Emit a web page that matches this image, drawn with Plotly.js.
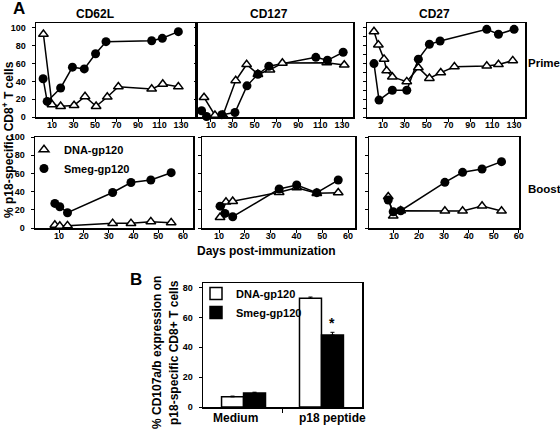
<!DOCTYPE html>
<html><head><meta charset="utf-8">
<script src="https://cdn.plot.ly/plotly-3.0.1.min.js"></script>
<style>html,body{margin:0;padding:0;background:#fff}#chart{width:560px;height:434px}</style>
</head><body><div id="chart"></div>
<script>
// ---------- Data (A: prime, days 0-130) ----------
const cd62lPrimeDNA_x = [2, 10, 18, 30.5, 40.7, 51, 61.4, 71.7, 102.7, 113, 127.5];
const cd62lPrimeDNA_y = [93, 14, 12, 13, 23, 12, 22.5, 34, 31.5, 37, 34];
const cd62lPrimeSmeg_x = [1.7, 5.5, 18, 29, 40, 50.5, 60.2, 102.7, 112.6, 127.5];
const cd62lPrimeSmeg_y = [43, 17.5, 32.6, 56, 54, 71, 84.6, 85.7, 88.4, 95.9];

const cd127PrimeDNA_x = [3.7, 13.7, 21, 32.7, 42.7, 53, 64, 75.4, 116, 132];
const cd127PrimeDNA_y = [22, 2, 2, 41, 59, 48, 53, 60.6, 61, 58.5];
const cd127PrimeSmeg_x = [1.5, 6, 20, 32, 43, 53, 63, 106, 116.6, 131];
const cd127PrimeSmeg_y = [7, 0.5, 2.6, 5, 35, 48, 57, 67, 63.7, 72.7];

const cd27PrimeDNA_x = [1.8, 5.8, 11, 13.4, 18.6, 31.8, 42.4, 52.5, 62.9, 75.4, 105, 115.7, 128.8];
const cd27PrimeDNA_y = [96, 81, 65, 52, 45, 39.7, 55.4, 43.5, 49.8, 56.5, 57.3, 59, 63.3];
const cd27PrimeSmeg_x = [1.8, 6.4, 18.6, 31.8, 42.4, 52.5, 62.3, 105, 115.7, 130];
const cd27PrimeSmeg_y = [60, 19, 30, 30, 65, 81.7, 85.4, 98.5, 93, 98.5];

// ---------- Data (A: boost, days 0-60) ----------
const cd62lBoostDNA_x = [8.3, 10.3, 13.4, 31.6, 39, 47, 55.2];
const cd62lBoostDNA_y = [3.3, 2.2, 2.6, 5.1, 5.1, 7, 5.9];
const cd62lBoostSmeg_x = [8.3, 10.3, 13.4, 31.6, 39, 47, 55.2];
const cd62lBoostSmeg_y = [27, 23.4, 16.8, 39, 50, 52.7, 60.8];

const cd127BoostDNA_x = [10.4, 12.7, 15.3, 33.3, 40.1, 47.9, 56.2];
const cd127BoostDNA_y = [11.7, 28.6, 29.3, 39.2, 44.3, 38.1, 38.8];
const cd127BoostSmeg_x = [10.4, 12.3, 15.3, 33.3, 40.1, 47.9, 56.2];
const cd127BoostSmeg_y = [24, 16, 12.4, 42.8, 47.2, 38.8, 52.7];

const cd27BoostDNA_x = [7.7, 9.7, 12.7, 30.4, 37.5, 45.3, 53.1];
const cd27BoostDNA_y = [34.4, 13.2, 19, 18.7, 18.7, 24.2, 18.7];
const cd27BoostSmeg_x = [7.7, 9.7, 12.7, 30.4, 37.5, 45.3, 53.1];
const cd27BoostSmeg_y = [30.8, 17.9, 19, 50.2, 61.2, 64.8, 72.9];

// ---------- Data (B) ----------
const bCategories = ['Medium', 'p18 peptide'];
const bDNA = [6.8, 72.8];
const bDNAerr = [0.5, 0.8];
const bSmeg = [9.4, 48.2];
const bSmegErr = [0.5, 1.8];

const seriesNames = ['DNA-gp120', 'Smeg-gp120'];
const primeTicks = [10, 30, 50, 70, 90, 110, 130];
const boostTicks = [10, 20, 30, 40, 50, 60];

// ---------- Layout helpers ----------
const F = 'Liberation Sans, Arial, sans-serif';
const W = 560, H = 434;
const px = v => v / W, py = v => 1 - v / H;
const tickFont = {family: F, size: 9, weight: 700, color: '#000'};

function xAxis(l, r, range, tickvals, anchor) {
  return {domain: [px(l), px(r)], range, anchor, tickmode: 'array', tickvals,
    ticks: 'outside', ticklen: 3, tickwidth: 1, tickcolor: '#000',
    showline: true, mirror: true, linecolor: '#000', linewidth: 1.5,
    showgrid: false, zeroline: false, tickfont: tickFont, ticklabelstandoff: -4};
}
function yAxis(t, b, range, dtick, labels, anchor) {
  return {domain: [py(b), py(t)], range, anchor, tickmode: 'linear', tick0: 0, dtick,
    ticks: 'outside', ticklen: 3, tickwidth: 1, tickcolor: '#000',
    showticklabels: labels, showline: true, mirror: true, linecolor: '#000', linewidth: 1.5,
    showgrid: false, zeroline: false, tickfont: tickFont, ticklabelstandoff: 4};
}

const traces = [];
function addPanel(ax, dx, dy, sx, sy, legendOn) {
  const xa = 'x' + (ax === 1 ? '' : ax), ya = 'y' + (ax === 1 ? '' : ax);
  const line = {color: '#000', width: 1.5};
  traces.push({x: dx, y: dy, xaxis: xa, yaxis: ya, mode: 'lines', line, showlegend: false, cliponaxis: false, hoverinfo: 'skip'});
  traces.push({x: sx, y: sy, xaxis: xa, yaxis: ya, mode: 'lines', line, showlegend: false, cliponaxis: false, hoverinfo: 'skip'});
  traces.push({x: dx, y: dy, xaxis: xa, yaxis: ya, mode: 'markers', name: seriesNames[0],
    marker: {symbol: 'triangle-up', size: 8.5, color: '#fff', line: {color: '#000', width: 1.5}},
    showlegend: legendOn, legend: 'legend', cliponaxis: false});
  traces.push({x: sx, y: sy, xaxis: xa, yaxis: ya, mode: 'markers', name: seriesNames[1],
    marker: {symbol: 'circle', size: 9, color: '#000', line: {color: '#000', width: 0}},
    showlegend: legendOn, legend: 'legend', cliponaxis: false});
}
addPanel(1, cd62lPrimeDNA_x, cd62lPrimeDNA_y, cd62lPrimeSmeg_x, cd62lPrimeSmeg_y, false);
addPanel(2, cd127PrimeDNA_x, cd127PrimeDNA_y, cd127PrimeSmeg_x, cd127PrimeSmeg_y, false);
addPanel(3, cd27PrimeDNA_x, cd27PrimeDNA_y, cd27PrimeSmeg_x, cd27PrimeSmeg_y, false);
addPanel(4, cd62lBoostDNA_x, cd62lBoostDNA_y, cd62lBoostSmeg_x, cd62lBoostSmeg_y, true);
addPanel(5, cd127BoostDNA_x, cd127BoostDNA_y, cd127BoostSmeg_x, cd127BoostSmeg_y, false);
addPanel(6, cd27BoostDNA_x, cd27BoostDNA_y, cd27BoostSmeg_x, cd27BoostSmeg_y, false);

const bIdx = bCategories.map((c, i) => i);
traces.push({type: 'bar', x: bIdx, y: bDNA, name: seriesNames[0], xaxis: 'x7', yaxis: 'y7',
  marker: {color: '#fff', line: {color: '#000', width: 1.5}}, legend: 'legend2',
  error_y: {type: 'data', array: bDNAerr, arrayminus: bDNAerr.map(() => 0), symmetric: false, color: '#000', thickness: 1, width: 2}});
traces.push({type: 'bar', x: bIdx, y: bSmeg, name: seriesNames[1], xaxis: 'x7', yaxis: 'y7',
  marker: {color: '#000', line: {color: '#000', width: 1.5}}, legend: 'legend2',
  error_y: {type: 'data', array: bSmegErr, arrayminus: bSmegErr.map(() => 0), symmetric: false, color: '#000', thickness: 1, width: 2}});

const ann = (text, x, y, size, extra) => Object.assign({text, x: px(x), y: py(y), xref: 'paper', yref: 'paper',
  xanchor: 'center', yanchor: 'middle', showarrow: false,
  font: {family: F, size, weight: 700, color: '#000'}}, extra || {});

const layout = {
  width: W, height: H, margin: {l: 0, r: 0, t: 0, b: 0},
  paper_bgcolor: '#fff', plot_bgcolor: '#fff', showlegend: true,
  barmode: 'group', bargap: 0.436, bargroupgap: 0,
  xaxis: xAxis(36, 195, [-4.9, 143], primeTicks, 'y'),
  yaxis: yAxis(23, 117, [0, 105.6], 20, true, 'x'),
  xaxis2: xAxis(198, 353, [-1.8, 140], primeTicks, 'y2'),
  yaxis2: yAxis(23, 117, [0, 105.6], 20, false, 'x2'),
  xaxis3: xAxis(367, 525, [-4.6, 140], primeTicks, 'y3'),
  yaxis3: yAxis(23, 117, [0, 105.6], 10, false, 'x3'),
  xaxis4: xAxis(35, 193, [0.3, 64], boostTicks, 'y4'),
  yaxis4: yAxis(137, 228, [0, 100], 20, true, 'x4'),
  xaxis5: xAxis(202, 355, [3.4, 62.7], boostTicks, 'y5'),
  yaxis5: yAxis(137, 228, [0, 100], 20, false, 'x5'),
  xaxis6: xAxis(369, 519, [0, 60.1], boostTicks, 'y6'),
  yaxis6: yAxis(137, 228, [0, 100], 20, false, 'x6'),
  xaxis7: Object.assign(xAxis(203, 362, [-0.52, 1.52], [0.5], 'y7'), {ticktext: [''], ticklen: 4}),
  yaxis7: yAxis(283, 407, [0, 83], 20, true, 'x7'),
  legend: {x: px(24), y: py(135), xanchor: 'left', yanchor: 'top', bgcolor: 'rgba(0,0,0,0)',
    borderwidth: 0, font: {family: F, size: 11, weight: 700, color: '#000'}, tracegroupgap: 0},
  legend2: {x: px(196), y: py(279), xanchor: 'left', yanchor: 'top', bgcolor: 'rgba(0,0,0,0)',
    borderwidth: 0, font: {family: F, size: 11, weight: 700, color: '#000'}, tracegroupgap: 0},
  annotations: [
    ann('A', 19, 8, 17),
    ann('CD62L', 95, 14, 12),
    ann('CD127', 269, 14, 12),
    ann('CD27', 434, 14, 12),
    ann('Prime', 526, 63, 11.5, {xanchor: 'left'}),
    ann('Boost', 526, 189, 11.5, {xanchor: 'left'}),
    ann('Days post-immunization', 266, 251, 12),
    ann('% p18-specific CD8<sup>+</sup> T cells', 8, 140, 12, {textangle: -90}),
    ann('B', 136, 279, 17),
    ann('% CD107a/b expression on', 157, 353, 12, {textangle: -90}),
    ann('p18-specific CD8+ T cells', 174, 353, 12, {textangle: -90}),
    ann(bCategories[0], 235, 418, 12),
    ann(bCategories[1], 332, 418, 12),
    {text: '*', x: 1.14, y: 56, xref: 'x7', yref: 'y7', xanchor: 'center', yanchor: 'middle', showarrow: false,
     font: {family: F, size: 14, weight: 700, color: '#000'}}
  ]
};

Plotly.newPlot('chart', traces, layout, {staticPlot: true, displayModeBar: false});
</script>
</body></html>
